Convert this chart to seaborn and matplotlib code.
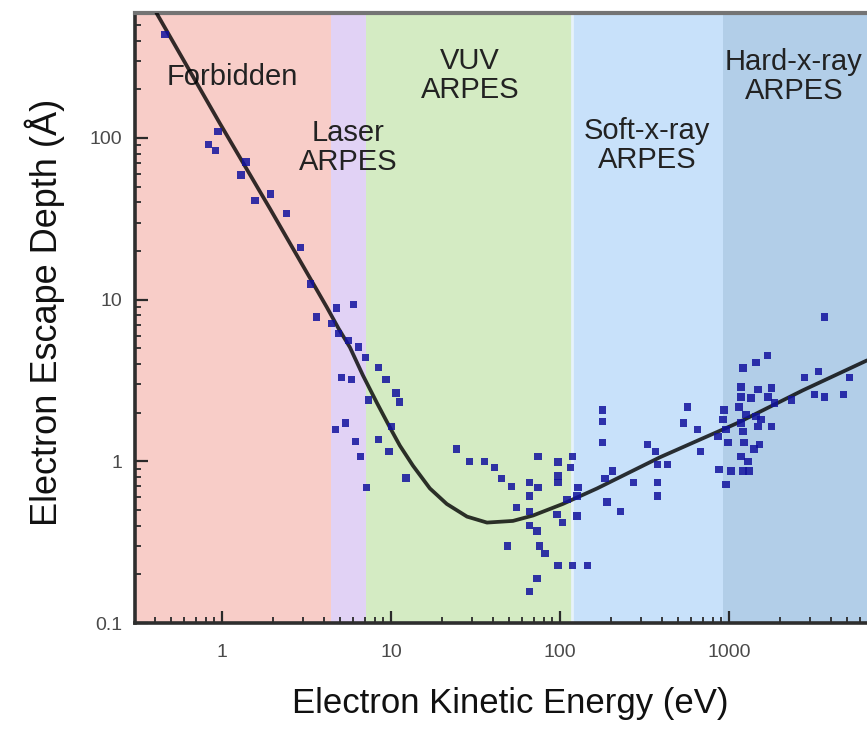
import matplotlib
matplotlib.use("Agg")
import matplotlib.pyplot as plt
import seaborn as sns
import pandas as pd
from matplotlib.ticker import LogLocator, FixedLocator, FixedFormatter, NullFormatter

# ---------------- data ----------------
region_names = ["Forbidden", "Laser\nARPES", "VUV\nARPES", "Soft-x-ray\nARPES", "Hard-x-ray\nARPES"]
region_edges = [0.306, 4.4, 7.1, 118, 920, 6560]          # eV
region_colors = ["#f8cdc8", "#e1d2f5", "#d4ebc3", "#c8e1fa", "#b2cee8"]
label_energy = [1.16, 5.57, 29.3, 327, 2425]
label_depth = [237, 87.5, 244, 90, 240]

curve_energy = [0.41, 0.973, 1.92, 4.18, 4.9, 5.72, 6.83, 8.26, 9.86, 11.3, 13.5,
                17.0, 21.4, 28.2, 37.0, 52.7, 69.2, 104, 166, 391, 1115, 2740, 6560]
curve_depth = [593, 123, 36.7, 8.96, 6.63, 5.07, 3.40, 2.30, 1.62, 1.25, 0.94,
               0.68, 0.545, 0.455, 0.418, 0.428, 0.462, 0.545, 0.68, 1.06, 1.72, 2.75, 4.21]

point_energy = [0.46, 0.95, 0.83, 0.92, 1.39, 1.30, 1.93, 1.57, 2.40, 2.91, 3.34, 3.63, 4.77, 6.02, 4.45,
                4.90, 5.62, 6.45, 7.10, 8.48, 9.34, 10.7, 11.2, 5.11, 5.86, 5.40, 4.71, 6.19, 6.63, 7.20,
                8.48, 9.73, 10.1, 7.40, 12.3,
                24.4, 29.1, 35.8, 41.0, 45.2, 51.8, 66.3, 74.0, 74.0, 55.5, 66.3, 66.3, 66.3, 73.0, 76.0,
                81.5, 49.0, 97.3, 119, 115, 97.3, 97.3, 128, 110, 126, 95.9, 104, 126, 97.3, 119,
                145, 73.0, 66.3,
                178, 178, 178, 204, 185, 272, 190, 228, 330, 368, 378, 433, 378, 378, 570, 540, 653, 681,
                933, 921, 960, 860, 987, 872, 1028, 960, 1211, 1448, 1685, 1178, 1178, 1489, 1352,
                1778, 1706, 1148, 1262, 1448, 1549, 1178, 1211, 1489, 1778, 1228, 1510, 1408, 1178,
                1297, 1211, 1315, 3675, 2793, 3388, 3206, 3675, 4775, 5176, 2339, 1854]
point_depth = [435, 110, 91, 84, 71, 59, 45, 41, 34, 21, 12.5, 7.8, 8.9, 9.3, 7.1,
               6.2, 5.6, 5.1, 4.4, 3.8, 3.2, 2.65, 2.33, 3.3, 3.2, 1.73, 1.57, 1.33, 1.07, 0.69,
               1.36, 1.15, 1.64, 2.40, 0.79,
               1.19, 1.0, 1.0, 0.92, 0.78, 0.70, 0.74, 1.07, 0.69, 0.52, 0.61, 0.49, 0.40, 0.37, 0.30,
               0.27, 0.30, 0.99, 1.07, 0.92, 0.81, 0.74, 0.69, 0.58, 0.61, 0.47, 0.42, 0.46, 0.227, 0.227,
               0.227, 0.189, 0.157,
               2.08, 1.76, 1.31, 0.87, 0.78, 0.74, 0.56, 0.49, 1.27, 1.15, 0.96, 0.96, 0.74, 0.61, 2.17, 1.73, 1.57, 1.15,
               2.08, 1.81, 1.57, 1.42, 1.31, 0.89, 0.87, 0.72, 3.77, 4.1, 4.5, 2.88, 2.5, 2.77, 2.47,
               2.84, 2.5, 2.17, 1.94, 1.89, 1.81, 1.73, 1.53, 1.64, 1.64, 1.31, 1.27, 1.19, 1.07,
               1.0, 0.87, 0.87, 7.8, 3.3, 3.6, 2.58, 2.5, 2.58, 3.3, 2.4, 2.3]

x_ticks = [1, 10, 100, 1000]
x_tick_labels = ["1", "10", "100", "1000"]
y_ticks = [0.1, 1, 10, 100]
y_tick_labels = ["0.1", "1", "10", "100"]
x_limits = (0.306, 6560)
y_limits = (0.1, 593)

# ---------------- plot ----------------
sns.set_theme(style="white")
plt.rcParams["font.family"] = ["Liberation Sans", "DejaVu Sans"]

fig = plt.figure(figsize=(8.67, 7.44), dpi=100)
ax = fig.add_axes([135 / 867, 1 - 623 / 744, 1 - 135 / 867, (623 - 13) / 744])
ax.set_xscale("log")
ax.set_yscale("log")
ax.set_xlim(*x_limits)
ax.set_ylim(*y_limits)

for i, col in enumerate(region_colors):
    ax.axvspan(region_edges[i], region_edges[i + 1], color=col, lw=0, zorder=0)
# thin light seam between VUV and soft x-ray band
ax.axvline(region_edges[3], color="#e6f2fb", lw=2.0, zorder=0.5)

for name, ex, dy in zip(region_names, label_energy, label_depth):
    ax.text(ex, dy, name, ha="center", va="center", fontsize=21, color="#222222",
            linespacing=1.05, zorder=2)

curve_df = pd.DataFrame({"energy": curve_energy, "depth": curve_depth})
pts_df = pd.DataFrame({"energy": point_energy, "depth": point_depth})

sns.lineplot(data=curve_df, x="energy", y="depth", sort=False, ax=ax,
             color="black", alpha=0.8, linewidth=2.7, zorder=3)
line = ax.get_lines()[-1]
line.set_solid_joinstyle("round")
line.set_solid_capstyle("round")
sns.scatterplot(data=pts_df, x="energy", y="depth", ax=ax, marker="s", s=28,
                color="#12129e", alpha=0.85, edgecolor="none", linewidth=0, zorder=4)

ax.xaxis.set_major_locator(FixedLocator(x_ticks))
ax.xaxis.set_major_formatter(FixedFormatter(x_tick_labels))
ax.yaxis.set_major_locator(FixedLocator(y_ticks))
ax.yaxis.set_major_formatter(FixedFormatter(y_tick_labels))
ax.xaxis.set_minor_locator(LogLocator(base=10, subs=range(2, 10), numticks=20))
ax.yaxis.set_minor_locator(LogLocator(base=10, subs=range(2, 10), numticks=20))
ax.xaxis.set_minor_formatter(NullFormatter())
ax.yaxis.set_minor_formatter(NullFormatter())

ax.tick_params(axis="both", which="both", bottom=True, left=True, top=False, right=False)
ax.tick_params(axis="both", which="major", direction="in", length=9, width=1.6,
               color="#2a2a2a", labelsize=14, labelcolor="#4a4a4a")
ax.tick_params(axis="both", which="minor", direction="in", length=4.5, width=1.3, color="#2a2a2a")
ax.tick_params(axis="x", which="major", pad=15)
ax.tick_params(axis="y", which="major", pad=9)

for side in ["left", "bottom"]:
    ax.spines[side].set_color("#2e2e2e")
    ax.spines[side].set_linewidth(2.6)
ax.spines["top"].set_color("#747474")
ax.spines["top"].set_linewidth(3.0)
ax.spines["right"].set_visible(False)

ax.set_xlabel("Electron Kinetic Energy (eV)", fontsize=25, color="#111111")
ax.set_ylabel("Electron Escape Depth (Å)", fontsize=26, color="#111111")
ax.xaxis.set_label_coords((510 - 135) / 732, (623 - 703) / 610)
ax.xaxis.label.set_va("center")
ax.yaxis.set_label_coords((45 - 135) / 732, (623 - 312) / 610)
ax.yaxis.label.set_va("center")

fig.savefig("out.png", dpi=100)
